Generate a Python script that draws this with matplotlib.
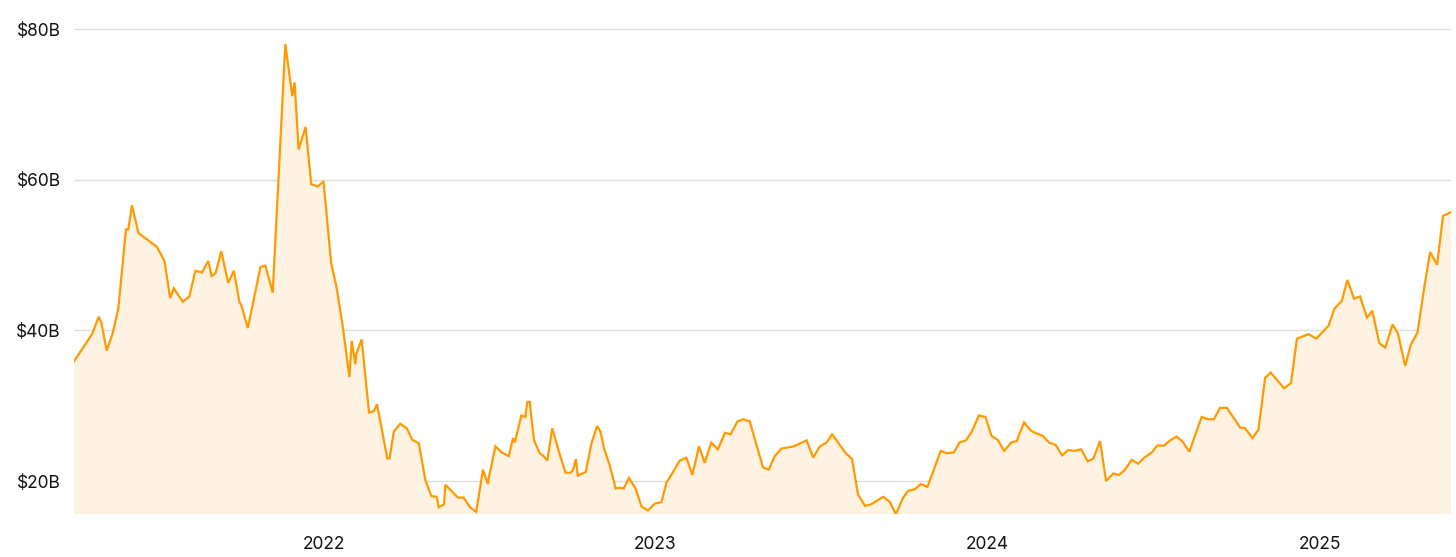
import matplotlib
matplotlib.use("Agg")
import matplotlib.pyplot as plt
import numpy as np

# decimal-year positions and values (billions USD)
dates = [
    2021.247, 2021.303, 2021.323, 2021.331, 2021.347, 2021.365, 2021.382, 2021.405, 2021.412, 2021.423,
    2021.443, 2021.498, 2021.521, 2021.538, 2021.549, 2021.576, 2021.596, 2021.614, 2021.634, 2021.653,
    2021.663, 2021.675, 2021.692, 2021.713, 2021.730, 2021.747, 2021.752, 2021.772, 2021.810, 2021.825,
    2021.847, 2021.885, 2021.906, 2021.913, 2021.925, 2021.946, 2021.963, 2021.983, 2022.000, 2022.023,
    2022.039, 2022.058, 2022.078, 2022.085, 2022.096, 2022.099, 2022.115, 2022.137, 2022.152, 2022.161,
    2022.176, 2022.192, 2022.199, 2022.212, 2022.231, 2022.251, 2022.267, 2022.287, 2022.307, 2022.325,
    2022.341, 2022.347, 2022.363, 2022.367, 2022.405, 2022.422, 2022.442, 2022.460, 2022.480, 2022.495,
    2022.500, 2022.518, 2022.536, 2022.558, 2022.571, 2022.576, 2022.596, 2022.608, 2022.614, 2022.621,
    2022.634, 2022.651, 2022.663, 2022.674, 2022.689, 2022.709, 2022.729, 2022.744, 2022.751, 2022.760,
    2022.766, 2022.790, 2022.807, 2022.824, 2022.834, 2022.845, 2022.862, 2022.880, 2022.889, 2022.904,
    2022.920, 2022.940, 2022.958, 2022.977, 2022.998, 2023.018, 2023.033, 2023.053, 2023.073, 2023.093,
    2023.111, 2023.131, 2023.148, 2023.168, 2023.188, 2023.209, 2023.226, 2023.247, 2023.264, 2023.284,
    2023.304, 2023.324, 2023.341, 2023.359, 2023.379, 2023.417, 2023.455, 2023.475, 2023.495, 2023.515,
    2023.532, 2023.550, 2023.573, 2023.592, 2023.610, 2023.631, 2023.649, 2023.686, 2023.706, 2023.724,
    2023.746, 2023.761, 2023.781, 2023.799, 2023.819, 2023.859, 2023.877, 2023.899, 2023.915, 2023.935,
    2023.952, 2023.974, 2023.994, 2024.012, 2024.032, 2024.050, 2024.071, 2024.088, 2024.110, 2024.130,
    2024.148, 2024.166, 2024.186, 2024.205, 2024.225, 2024.243, 2024.263, 2024.282, 2024.302, 2024.319,
    2024.339, 2024.357, 2024.379, 2024.396, 2024.414, 2024.434, 2024.454, 2024.472, 2024.495, 2024.511,
    2024.532, 2024.550, 2024.570, 2024.588, 2024.608, 2024.627, 2024.645, 2024.665, 2024.682, 2024.700,
    2024.721, 2024.741, 2024.761, 2024.776, 2024.798, 2024.816, 2024.836, 2024.853, 2024.893, 2024.914,
    2024.932, 2024.967, 2024.990, 2025.027, 2025.045, 2025.067, 2025.084, 2025.104, 2025.122, 2025.143,
    2025.159, 2025.180, 2025.198, 2025.220, 2025.236, 2025.258, 2025.275, 2025.295, 2025.315, 2025.333,
    2025.354, 2025.372, 2025.396,
]
values = [
    35.8, 39.5, 41.8, 41.0, 37.3, 39.6, 42.9, 53.4, 53.4, 56.6,
    52.9, 51.1, 49.2, 44.3, 45.6, 43.8, 44.5, 47.9, 47.7, 49.2,
    47.2, 47.6, 50.5, 46.3, 47.9, 43.7, 43.4, 40.3, 48.4, 48.6,
    45.0, 78.0, 71.1, 72.9, 64.0, 67.0, 59.4, 59.1, 59.8, 48.9,
    45.8, 40.5, 33.8, 38.6, 35.5, 36.9, 38.8, 29.1, 29.3, 30.2,
    26.8, 23.0, 23.0, 26.6, 27.6, 27.0, 25.5, 25.0, 20.1, 18.0,
    17.9, 16.5, 16.9, 19.5, 17.8, 17.8, 16.5, 15.9, 21.5, 19.6,
    20.9, 24.6, 23.8, 23.3, 25.7, 25.1, 28.7, 28.5, 30.5, 30.5,
    25.4, 23.7, 23.3, 22.7, 27.0, 23.9, 21.1, 21.1, 21.4, 22.9,
    20.7, 21.2, 25.0, 27.3, 26.6, 24.3, 22.1, 19.0, 19.1, 19.0,
    20.4, 19.0, 16.6, 16.1, 17.0, 17.2, 19.8, 21.2, 22.7, 23.1,
    20.8, 24.6, 22.4, 25.1, 24.2, 26.4, 26.2, 27.9, 28.2, 27.9,
    24.8, 21.8, 21.5, 23.3, 24.3, 24.6, 25.4, 23.1, 24.6, 25.1,
    26.2, 25.1, 23.7, 22.9, 18.2, 16.7, 16.9, 17.9, 17.2, 15.6,
    17.8, 18.7, 18.9, 19.6, 19.2, 24.0, 23.7, 23.8, 25.1, 25.4,
    26.5, 28.7, 28.5, 26.0, 25.4, 24.0, 25.1, 25.3, 27.8, 26.7,
    26.3, 26.0, 25.1, 24.8, 23.4, 24.1, 24.0, 24.2, 22.6, 23.0,
    25.3, 20.0, 21.0, 20.8, 21.5, 22.8, 22.3, 23.1, 23.8, 24.7,
    24.7, 25.4, 25.9, 25.2, 23.9, 26.3, 28.5, 28.2, 28.2, 29.7,
    29.7, 28.4, 27.1, 27.0, 25.7, 26.8, 33.7, 34.4, 32.3, 33.0,
    38.9, 39.5, 38.9, 40.6, 42.9, 43.9, 46.7, 44.2, 44.5, 41.7,
    42.6, 38.3, 37.7, 40.8, 39.6, 35.3, 38.1, 39.7, 45.6, 50.4,
    48.7, 55.2, 55.7,
]
year_ticks = [2022, 2023, 2024, 2025]
year_labels = ["2022", "2023", "2024", "2025"]
y_ticks = [20, 40, 60, 80]
y_labels = ["$20B", "$40B", "$60B", "$80B"]

plt.rcParams['font.family'] = ['Inter', 'DejaVu Sans']

W, H = 1456, 557
fig = plt.figure(figsize=(W / 100, H / 100), dpi=100)
ax_left, ax_right = 73.5, 1451
ax_top, ax_bottom = 21.5, 514
ax = fig.add_axes([ax_left / W, 1 - ax_bottom / H, (ax_right - ax_left) / W, (ax_bottom - ax_top) / H])

line_color = "#FF9A00"
fill_color = "#FEF2E2"

x = np.array(dates)
y = np.array(values)
ax.fill_between(x, y, 0, color=fill_color, linewidth=0, zorder=1)
ax.plot(x, y, color=line_color, linewidth=1.6, solid_joinstyle="miter", zorder=3)

ax.set_xlim(dates[0], dates[-1])
ax.set_ylim(15.62, 81)

ax.set_yticks(y_ticks)
ax.set_yticklabels(y_labels)
ax.set_xticks(year_ticks)
ax.set_xticklabels(year_labels)

ax.grid(axis="y", color="#DEDEDE", linewidth=1.0, zorder=0)
ax.set_axisbelow(True)
for s in ax.spines.values():
    s.set_visible(False)

ax.tick_params(axis="y", length=0, pad=9, labelsize=12.5, labelcolor="#111111")
ax.tick_params(axis="x", length=0, pad=16, labelsize=12.5, labelcolor="#111111")

fig.savefig("out.png", dpi=100, facecolor="white")
